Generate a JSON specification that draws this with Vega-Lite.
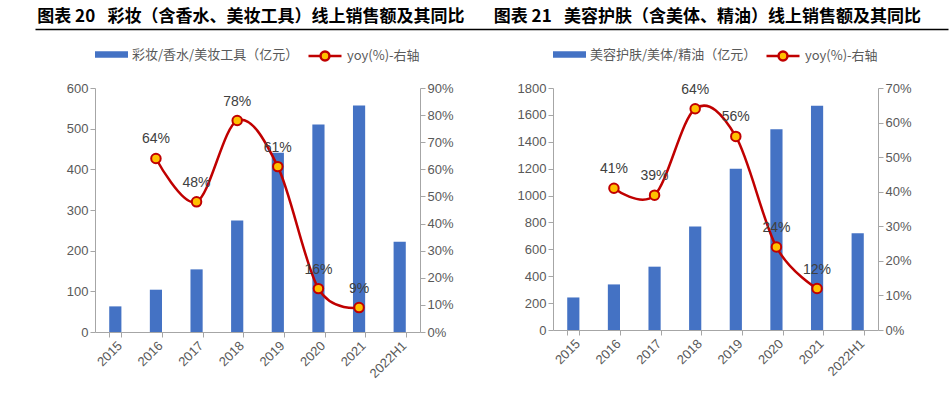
{
  "$schema": "https://vega.github.io/schema/vega-lite/v6.json",
  "padding": {"left": 35, "top": 7, "right": 0, "bottom": 0},
  "config": {
    "view": {"stroke": null},
    "font": "Liberation Sans",
    "axis": {
      "domainColor": "#A6A6A6",
      "tickColor": "#A6A6A6",
      "tickSize": 5,
      "labelColor": "#595959",
      "labelFont": "Liberation Sans",
      "labelFontSize": 13,
      "grid": false,
      "title": null
    },
    "legend": {
      "orient": "top",
      "direction": "horizontal",
      "title": null,
      "labelFont": "Noto Sans CJK SC",
      "labelFontSize": 13,
      "labelColor": "#595959",
      "labelLimit": 400,
      "labelOffset": 4
    }
  },
  "spacing": 9,
  "vconcat": [
    {
      "width": 793,
      "height": 1,
      "data": {"values": [
        {"panel": "L", "title": "图表 20\u2002 彩妆（含香水、美妆工具）线上销售额及其同比"},
        {"panel": "R", "title": "图表 21\u2002 美容护肤（含美体、精油）线上销售额及其同比"}
      ]},
      "mark": {"type": "text", "align": "left", "baseline": "alphabetic", "dx": -226, "dy": -7, "font": "Noto Sans CJK SC", "fontSize": 17, "fontWeight": "bold", "color": "#000000"},
      "encoding": {
        "x": {"field": "panel", "type": "nominal", "scale": {"range": [-60, 853], "paddingInner": 0, "paddingOuter": 0}, "axis": {"labels": false, "ticks": false, "domainColor": "#000000", "domainWidth": 1.5}},
        "text": {"field": "title"}
      }
    },
    {
      "spacing": 63,
      "hconcat": [
        {
          "width": 325,
          "height": 244,
          "data": {"values": [
            {"year": "2015", "sales": 63, "yoy": null},
            {"year": "2016", "sales": 104, "yoy": 0.64},
            {"year": "2017", "sales": 154, "yoy": 0.48},
            {"year": "2018", "sales": 274, "yoy": 0.78},
            {"year": "2019", "sales": 441, "yoy": 0.61},
            {"year": "2020", "sales": 510, "yoy": 0.16},
            {"year": "2021", "sales": 557, "yoy": 0.09},
            {"year": "2022H1", "sales": 222, "yoy": null}
          ]},
          "encoding": {"x": {"field": "year", "type": "nominal", "sort": null, "scale": {"paddingInner": 0.7, "paddingOuter": 0.35}, "axis": {"labelAngle": -45, "tickBand": "extent"}}},
          "layer": [
            {
              "mark": {"type": "bar"},
              "encoding": {
                "y": {"field": "sales", "type": "quantitative", "scale": {"domain": [0, 600]}, "axis": {"values": [0, 100, 200, 300, 400, 500, 600], "minExtent": 60}},
                "fill": {"datum": "彩妆/香水/美妆工具（亿元）", "scale": {"range": ["#4472C4"]}, "legend": {"symbolType": "M-1,-0.2H1V0.2H-1Z", "symbolSize": 1089, "symbolStrokeWidth": 0, "offset": 22}}
              }
            },
            {
              "encoding": {"y": {"field": "yoy", "type": "quantitative", "scale": {"domain": [0, 0.9]}, "axis": {"orient": "right", "format": ".0%", "values": [0, 0.1, 0.2, 0.3, 0.4, 0.5, 0.6, 0.7, 0.8, 0.9]}}},
              "layer": [
                {
                  "mark": {"type": "line", "interpolate": "cardinal", "strokeWidth": 2.5},
                  "encoding": {"stroke": {"datum": "yoy(%)-右轴", "scale": {"range": ["#C00000"]}, "legend": {"symbolType": "M-1,0H-0.27M-0.27,0A0.27,0.27 0 1,0 0.27,0A0.27,0.27 0 1,0 -0.27,0ZM0.27,0H1", "symbolSize": 1089, "symbolStrokeWidth": 2.5, "symbolFillColor": "#FFC000", "offset": 22, "encode": {"symbols": {"update": {"fill": {"value": "#FFC000"}}}}}}}
                },
                {"mark": {"type": "point", "filled": true, "fill": "#FFC000", "stroke": "#C00000", "strokeWidth": 2, "size": 90, "opacity": 1}},
                {"mark": {"type": "text", "dy": -19, "fontSize": 14, "color": "#404040"}, "encoding": {"text": {"field": "yoy", "format": ".0%"}}}
              ]
            }
          ],
          "resolve": {"scale": {"y": "independent", "fill": "independent", "stroke": "independent"}}
        },
        {
          "width": 325,
          "height": 242,
          "data": {"values": [
            {"year": "2015", "sales": 242, "yoy": null},
            {"year": "2016", "sales": 339, "yoy": 0.41},
            {"year": "2017", "sales": 471, "yoy": 0.39},
            {"year": "2018", "sales": 770, "yoy": 0.64},
            {"year": "2019", "sales": 1199, "yoy": 0.56},
            {"year": "2020", "sales": 1493, "yoy": 0.24},
            {"year": "2021", "sales": 1668, "yoy": 0.12},
            {"year": "2022H1", "sales": 720, "yoy": null}
          ]},
          "encoding": {"x": {"field": "year", "type": "nominal", "sort": null, "scale": {"paddingInner": 0.7, "paddingOuter": 0.35}, "axis": {"labelAngle": -45, "tickBand": "extent"}}},
          "layer": [
            {
              "mark": {"type": "bar"},
              "encoding": {
                "y": {"field": "sales", "type": "quantitative", "scale": {"domain": [0, 1800]}, "axis": {"format": "d", "values": [0, 200, 400, 600, 800, 1000, 1200, 1400, 1600, 1800]}},
                "fill": {"datum": "美容护肤/美体/精油（亿元）", "scale": {"range": ["#4472C4"]}, "legend": {"symbolType": "M-1,-0.2H1V0.2H-1Z", "symbolSize": 1089, "symbolStrokeWidth": 0, "offset": 22}}
              }
            },
            {
              "encoding": {"y": {"field": "yoy", "type": "quantitative", "scale": {"domain": [0, 0.7]}, "axis": {"orient": "right", "format": ".0%", "values": [0, 0.1, 0.2, 0.3, 0.4, 0.5, 0.6, 0.7]}}},
              "layer": [
                {
                  "mark": {"type": "line", "interpolate": "cardinal", "strokeWidth": 2.5},
                  "encoding": {"stroke": {"datum": "yoy(%)-右轴", "scale": {"range": ["#C00000"]}, "legend": {"symbolType": "M-1,0H-0.27M-0.27,0A0.27,0.27 0 1,0 0.27,0A0.27,0.27 0 1,0 -0.27,0ZM0.27,0H1", "symbolSize": 1089, "symbolStrokeWidth": 2.5, "symbolFillColor": "#FFC000", "offset": 22, "encode": {"symbols": {"update": {"fill": {"value": "#FFC000"}}}}}}}
                },
                {"mark": {"type": "point", "filled": true, "fill": "#FFC000", "stroke": "#C00000", "strokeWidth": 2, "size": 90, "opacity": 1}},
                {"mark": {"type": "text", "dy": -19, "fontSize": 14, "color": "#404040"}, "encoding": {"text": {"field": "yoy", "format": ".0%"}}}
              ]
            }
          ],
          "resolve": {"scale": {"y": "independent", "fill": "independent", "stroke": "independent"}}
        }
      ]
    }
  ]
}
